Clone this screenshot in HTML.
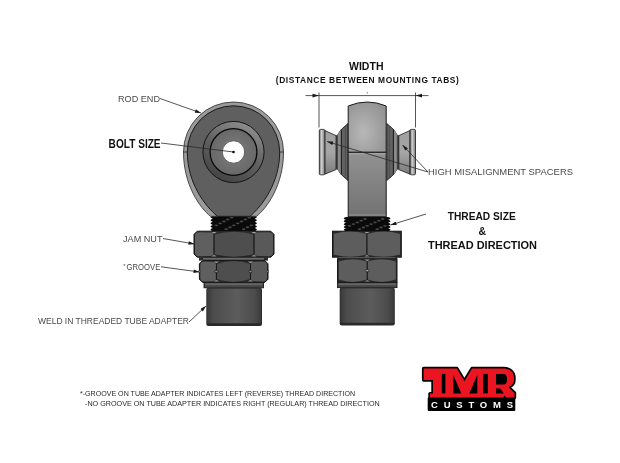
<!DOCTYPE html>
<html><head><meta charset="utf-8">
<style>
html,body{margin:0;padding:0;background:#fff;width:620px;height:463px;overflow:hidden}
svg{display:block;will-change:transform}
text{font-family:"Liberation Sans",sans-serif}
</style></head><body>
<svg width="620" height="463" viewBox="0 0 620 463">
<defs>
  <linearGradient id="tube" x1="0" x2="1" y1="0" y2="0">
    <stop offset="0" stop-color="#3a3a3a"/>
    <stop offset="0.12" stop-color="#4c4c4c"/>
    <stop offset="0.55" stop-color="#5c5c5c"/>
    <stop offset="0.88" stop-color="#4c4c4c"/>
    <stop offset="1" stop-color="#3a3a3a"/>
  </linearGradient>
  <radialGradient id="shankTop" cx="0.4" cy="0.6" r="0.7">
    <stop offset="0" stop-color="#b8b8b8"/>
    <stop offset="1" stop-color="#929292"/>
  </radialGradient>
  <linearGradient id="shankLow" x1="0" x2="0" y1="0" y2="1">
    <stop offset="0" stop-color="#929292"/>
    <stop offset="1" stop-color="#727272"/>
  </linearGradient>
  <linearGradient id="ring" x1="0.75" x2="0.25" y1="0" y2="1">
    <stop offset="0" stop-color="#909090"/>
    <stop offset="0.5" stop-color="#606060"/>
    <stop offset="1" stop-color="#424242"/>
  </linearGradient>
  <radialGradient id="inner" cx="0.5" cy="0.5" r="0.5">
    <stop offset="0.45" stop-color="#747474"/>
    <stop offset="1" stop-color="#686868"/>
  </radialGradient>
  <linearGradient id="cone" x1="0" x2="0" y1="0" y2="1">
    <stop offset="0" stop-color="#a0a0a0"/>
    <stop offset="0.5" stop-color="#a6a6a6"/>
    <stop offset="1" stop-color="#7c7c7c"/>
  </linearGradient>
  <linearGradient id="flange" x1="0" x2="1" y1="0" y2="0">
    <stop offset="0" stop-color="#6a6a6a"/>
    <stop offset="0.4" stop-color="#d0d0d0"/>
    <stop offset="1" stop-color="#7a7a7a"/>
  </linearGradient>
  <linearGradient id="flangeR" x1="1" x2="0" y1="0" y2="0">
    <stop offset="0" stop-color="#6a6a6a"/>
    <stop offset="0.4" stop-color="#d0d0d0"/>
    <stop offset="1" stop-color="#7a7a7a"/>
  </linearGradient>
  <marker id="arr" viewBox="0 0 10 6" refX="10" refY="3" markerWidth="7" markerHeight="3.6" orient="auto" markerUnits="userSpaceOnUse">
    <path d="M0,0 L10,3 L0,6 z" fill="#1a1a1a"/>
  </marker>
</defs>

<path d="M212.8,215.5 Q208.2,217.07 212.8,218.64 Q208.2,220.21 212.8,221.78 Q208.2,223.35 212.8,224.92 Q208.2,226.49 212.8,228.06 Q208.2,229.63 212.8,231.2 L254.6,231.2 Q259.2,229.63 254.6,228.06 Q259.2,226.49 254.6,224.92 Q259.2,223.35 254.6,221.78 Q259.2,220.21 254.6,218.64 Q259.2,217.07 254.6,215.5 Z" fill="#0a0a0a"/>
<ellipse cx="216.28" cy="225.3" rx="1.8" ry="0.9" fill="#484848"/>
<ellipse cx="220.12" cy="223.35" rx="1.8" ry="0.9" fill="#484848"/>
<ellipse cx="223.95" cy="221.4" rx="1.8" ry="0.9" fill="#484848"/>
<ellipse cx="227.78" cy="219.45" rx="1.8" ry="0.9" fill="#484848"/>
<ellipse cx="231.61" cy="217.5" rx="1.8" ry="0.9" fill="#484848"/>
<ellipse cx="226.18" cy="229.2" rx="1.8" ry="0.9" fill="#484848"/>
<ellipse cx="230.01" cy="227.25" rx="1.8" ry="0.9" fill="#484848"/>
<ellipse cx="233.84" cy="225.3" rx="1.8" ry="0.9" fill="#484848"/>
<ellipse cx="237.67" cy="223.35" rx="1.8" ry="0.9" fill="#484848"/>
<ellipse cx="241.5" cy="221.4" rx="1.8" ry="0.9" fill="#484848"/>
<ellipse cx="245.33" cy="219.45" rx="1.8" ry="0.9" fill="#484848"/>
<ellipse cx="249.17" cy="217.5" rx="1.8" ry="0.9" fill="#484848"/>
<ellipse cx="243.73" cy="229.2" rx="1.8" ry="0.9" fill="#484848"/>
<ellipse cx="247.56" cy="227.25" rx="1.8" ry="0.9" fill="#484848"/>
<ellipse cx="251.4" cy="225.3" rx="1.8" ry="0.9" fill="#484848"/>
<path d="M183.5,152 A50,50 0 0 1 283.5,152 C283.5,185 267,208 256.5,216.3 L210.5,216.3 C200,208 183.5,185 183.5,152 Z" fill="#9a9a9a" stroke="#3a3a3a" stroke-width="0.9"/>
<path d="M187.3,152 A46.2,46.2 0 0 1 279.7,152 C279.7,183 262,206 250,216.3 L217.5,216.3 C205,206 187.3,183 187.3,152 Z" fill="#5f5f5f" stroke="#1a1a1a" stroke-width="1"/>
<line x1="183.5" y1="152" x2="187.3" y2="152" stroke="#222" stroke-width="0.8"/>
<line x1="279.7" y1="152" x2="283.5" y2="152" stroke="#222" stroke-width="0.8"/>
<circle cx="233.5" cy="152" r="30.6" fill="url(#ring)" stroke="#151515" stroke-width="1"/>
<circle cx="233.5" cy="152" r="23.4" fill="url(#inner)" stroke="#0a0a0a" stroke-width="1.3"/>
<circle cx="233.5" cy="152" r="11.2" fill="#fff" stroke="#444" stroke-width="0.8"/>
<path d="M197.2,231.2 L270.8,231.2 L274,234.4 L274,254 L270.8,257.2 L197.2,257.2 L194,254 L194,234.4 Z" fill="#2c2c2c" stroke="#151515" stroke-width="1"/>
<path d="M214.4,234.5 Q234,228.9 253.6,234.5 L253.6,253.9 Q234,259.5 214.4,253.9 Z" fill="#4e4e4e"/>
<path d="M195,235.7 Q195,232.2 199.5,232.2 L210.5,232.4 Q213.6,232.8 213.6,234.5 L213.6,253.9 Q213.6,255.6 210.5,256 L199.5,256.2 Q195,256.2 195,252.7 Z" fill="#5f5f5f"/>
<path d="M273,235.7 Q273,232.2 268.5,232.2 L257.5,232.4 Q254.4,232.8 254.4,234.5 L254.4,253.9 Q254.4,255.6 257.5,256 L268.5,256.2 Q273,256.2 273,252.7 Z" fill="#595959"/>
<line x1="214" y1="232.2" x2="214" y2="256.2" stroke="#151515" stroke-width="0.9"/>
<line x1="254" y1="232.2" x2="254" y2="256.2" stroke="#151515" stroke-width="0.9"/>
<path d="M211.4,232 L216.6,232 L214,233.8 Z" fill="#9c9c9c"/>
<path d="M211.4,256.4 L216.6,256.4 L214,254.6 Z" fill="#8a8a8a"/>
<path d="M251.4,232 L256.6,232 L254,233.8 Z" fill="#9c9c9c"/>
<path d="M251.4,256.4 L256.6,256.4 L254,254.6 Z" fill="#8a8a8a"/>
<rect x="199" y="257.2" width="69" height="3.4" fill="#2a2a2a"/>
<line x1="203" y1="258.9" x2="264" y2="258.9" stroke="#a0a0a0" stroke-width="0.9"/>
<path d="M202.6,260.6 L264.8,260.6 L268,263.8 L268,279.2 L264.8,282.4 L202.6,282.4 L199.4,279.2 L199.4,263.8 Z" fill="#2c2c2c" stroke="#151515" stroke-width="1"/>
<path d="M216.8,263.9 Q233.45,258.3 250.1,263.9 L250.1,279.1 Q233.45,284.7 216.8,279.1 Z" fill="#4e4e4e"/>
<path d="M200.4,265.1 Q200.4,261.6 204.9,261.6 L212.9,261.8 Q216,262.2 216,263.9 L216,279.1 Q216,280.8 212.9,281.2 L204.9,281.4 Q200.4,281.4 200.4,277.9 Z" fill="#5f5f5f"/>
<path d="M267,265.1 Q267,261.6 262.5,261.6 L254,261.8 Q250.9,262.2 250.9,263.9 L250.9,279.1 Q250.9,280.8 254,281.2 L262.5,281.4 Q267,281.4 267,277.9 Z" fill="#595959"/>
<line x1="216.4" y1="261.6" x2="216.4" y2="281.4" stroke="#151515" stroke-width="0.9"/>
<line x1="250.5" y1="261.6" x2="250.5" y2="281.4" stroke="#151515" stroke-width="0.9"/>
<path d="M213.8,261.4 L219,261.4 L216.4,263.2 Z" fill="#9c9c9c"/>
<path d="M213.8,281.6 L219,281.6 L216.4,279.8 Z" fill="#8a8a8a"/>
<path d="M247.9,261.4 L253.1,261.4 L250.5,263.2 Z" fill="#9c9c9c"/>
<path d="M247.9,281.6 L253.1,281.6 L250.5,279.8 Z" fill="#8a8a8a"/>
<ellipse cx="216.4" cy="271.5" rx="1.7" ry="1.2" fill="#8a8a8a" stroke="#151515" stroke-width="0.7"/>
<ellipse cx="250.5" cy="271.5" rx="1.7" ry="1.2" fill="#8a8a8a" stroke="#151515" stroke-width="0.7"/>
<path d="M199,270.3 l1.6,1.2 l-1.6,1.2 z" fill="#fff" stroke="#151515" stroke-width="0.6"/>
<path d="M268.4,270.3 l-1.6,1.2 l1.6,1.2 z" fill="#fff" stroke="#151515" stroke-width="0.6"/>
<rect x="204" y="282.6" width="59.5" height="5.2" fill="#484848" stroke="#1a1a1a" stroke-width="0.9"/><line x1="205" y1="284.1" x2="262.5" y2="284.1" stroke="#8a8a8a" stroke-width="0.8"/>
<rect x="206.3" y="287.8" width="55.7" height="38.2" rx="2" fill="#2a2a2a"/>
<rect x="207.1" y="288.6" width="54.1" height="34.6" fill="url(#tube)"/>
<path d="M346,217 Q341.4,218.42 346,219.84 Q341.4,221.26 346,222.68 Q341.4,224.1 346,225.52 Q341.4,226.94 346,228.36 Q341.4,229.78 346,231.2 L388.2,231.2 Q392.8,229.78 388.2,228.36 Q392.8,226.94 388.2,225.52 Q392.8,224.1 388.2,222.68 Q392.8,221.26 388.2,219.84 Q392.8,218.42 388.2,217 Z" fill="#0a0a0a"/>
<ellipse cx="349.52" cy="225.8" rx="1.8" ry="0.9" fill="#484848"/>
<ellipse cx="353.38" cy="224.1" rx="1.8" ry="0.9" fill="#484848"/>
<ellipse cx="357.25" cy="222.4" rx="1.8" ry="0.9" fill="#484848"/>
<ellipse cx="361.12" cy="220.7" rx="1.8" ry="0.9" fill="#484848"/>
<ellipse cx="364.99" cy="219" rx="1.8" ry="0.9" fill="#484848"/>
<ellipse cx="359.5" cy="229.2" rx="1.8" ry="0.9" fill="#484848"/>
<ellipse cx="363.37" cy="227.5" rx="1.8" ry="0.9" fill="#484848"/>
<ellipse cx="367.24" cy="225.8" rx="1.8" ry="0.9" fill="#484848"/>
<ellipse cx="371.11" cy="224.1" rx="1.8" ry="0.9" fill="#484848"/>
<ellipse cx="374.98" cy="222.4" rx="1.8" ry="0.9" fill="#484848"/>
<ellipse cx="378.85" cy="220.7" rx="1.8" ry="0.9" fill="#484848"/>
<ellipse cx="382.71" cy="219" rx="1.8" ry="0.9" fill="#484848"/>
<ellipse cx="377.23" cy="229.2" rx="1.8" ry="0.9" fill="#484848"/>
<ellipse cx="381.1" cy="227.5" rx="1.8" ry="0.9" fill="#484848"/>
<ellipse cx="384.96" cy="225.8" rx="1.8" ry="0.9" fill="#484848"/>
<path d="M336.2,137.28 A34.5,34.5 0 0 1 348,123.47 L348,180.53 A34.5,34.5 0 0 1 336.2,166.72 Z" fill="#626262" stroke="#1a1a1a" stroke-width="0.8"/>
<path d="M336.4,136.86 A34.5,34.5 0 0 1 341.6,129.1 L341.6,174.9 A34.5,34.5 0 0 1 336.4,167.14 Z" fill="#8a8a8a"/>
<line x1="341.4" y1="129.32" x2="341.4" y2="174.68" stroke="#1e1e1e" stroke-width="1.1"/>
<line x1="345.4" y1="126.42" x2="345.4" y2="177.58" stroke="#4a4a4a" stroke-width="0.8"/>
<rect x="335.7" y="135.2" width="2.2" height="34.3" fill="#454545"/>
<path d="M398.6,137.28 A34.5,34.5 0 0 0 386.8,123.47 L386.8,180.53 A34.5,34.5 0 0 0 398.6,166.72 Z" fill="#626262" stroke="#1a1a1a" stroke-width="0.8"/>
<path d="M398.4,136.86 A34.5,34.5 0 0 0 393.2,129.1 L393.2,174.9 A34.5,34.5 0 0 0 398.4,167.14 Z" fill="#8a8a8a"/>
<line x1="393.4" y1="129.32" x2="393.4" y2="174.68" stroke="#1e1e1e" stroke-width="1.1"/>
<line x1="389.4" y1="126.42" x2="389.4" y2="177.58" stroke="#4a4a4a" stroke-width="0.8"/>
<rect x="396.9" y="135.2" width="2.2" height="34.3" fill="#454545"/>
<path d="M324.8,130.5 L336,135.6 L336,169.6 L324.8,174.2 Z" fill="url(#cone)" stroke="#1a1a1a" stroke-width="0.8"/>
<rect x="319.3" y="129.4" width="5.5" height="45.4" rx="1.2" fill="url(#flange)" stroke="#1a1a1a" stroke-width="0.8"/>
<path d="M410,130.5 L398.8,135.6 L398.8,169.6 L410,174.2 Z" fill="url(#cone)" stroke="#1a1a1a" stroke-width="0.8"/>
<rect x="410" y="129.4" width="5.5" height="45.4" rx="1.2" fill="url(#flange)" stroke="#1a1a1a" stroke-width="0.8"/>
<path d="M348.2,106 Q367.2,98 386.2,106 L386.2,152.3 L348.2,152.3 Z" fill="url(#shankTop)" stroke="#1a1a1a" stroke-width="1"/>
<rect x="348.2" y="152.3" width="38" height="64.4" fill="url(#shankLow)" stroke="#1a1a1a" stroke-width="1"/>
<line x1="348.7" y1="153.8" x2="385.7" y2="153.8" stroke="#b0b0b0" stroke-width="0.8"/>
<line x1="348.8" y1="215" x2="385.6" y2="215" stroke="#a8a8a8" stroke-width="0.7"/>
<rect x="332.5" y="231.2" width="68.8" height="26" fill="#2c2c2c" stroke="#151515" stroke-width="1"/>
<path d="M333.8,234 Q350.15,229.2 366.5,234 L366.5,254.4 Q350.15,259.2 333.8,254.4 Z" fill="#5d5d5d"/>
<path d="M367.3,234 Q383.65,229.2 400,234 L400,254.4 Q383.65,259.2 367.3,254.4 Z" fill="#5d5d5d"/>
<line x1="366.9" y1="232.2" x2="366.9" y2="256.2" stroke="#151515" stroke-width="0.9"/>
<path d="M364.3,232 L369.5,232 L366.9,233.6 Z" fill="#9c9c9c"/>
<path d="M364.3,256.4 L369.5,256.4 L366.9,254.8 Z" fill="#8a8a8a"/>
<rect x="337.5" y="257.2" width="59.5" height="1.6" fill="#2a2a2a"/>
<line x1="339" y1="258" x2="395.5" y2="258" stroke="#9a9a9a" stroke-width="0.7"/>
<rect x="337.5" y="258.8" width="59.5" height="23.6" fill="#2c2c2c" stroke="#151515" stroke-width="1"/>
<path d="M338.8,261.6 Q352.83,256.8 366.85,261.6 L366.85,279.6 Q352.83,284.4 338.8,279.6 Z" fill="#5d5d5d"/>
<path d="M367.65,261.6 Q381.67,256.8 395.7,261.6 L395.7,279.6 Q381.67,284.4 367.65,279.6 Z" fill="#5d5d5d"/>
<line x1="367.25" y1="259.8" x2="367.25" y2="281.4" stroke="#151515" stroke-width="0.9"/>
<path d="M364.65,259.6 L369.85,259.6 L367.25,261.2 Z" fill="#9c9c9c"/>
<path d="M364.65,281.6 L369.85,281.6 L367.25,280 Z" fill="#8a8a8a"/>
<ellipse cx="367.25" cy="270.6" rx="1.9" ry="1.3" fill="#9a9a9a" stroke="#151515" stroke-width="0.7"/>
<rect x="337.5" y="282.6" width="59.5" height="5" fill="#484848" stroke="#1a1a1a" stroke-width="0.9"/><line x1="338.5" y1="284.1" x2="396" y2="284.1" stroke="#8a8a8a" stroke-width="0.8"/>
<rect x="339.7" y="287.6" width="55.1" height="38" rx="2" fill="#2a2a2a"/>
<rect x="340.5" y="288.4" width="53.5" height="34.4" fill="url(#tube)"/>
<g stroke="#2a2a2a" stroke-width="0.8" fill="none"><line x1="305.5" y1="95.6" x2="428.5" y2="95.6"/><line x1="319" y1="92.5" x2="319" y2="127.5"/><line x1="415.5" y1="92.5" x2="415.5" y2="127.5"/></g>
<path d="M319,95.6 l-6.5,-1.8 l0,3.6 z M415.5,95.6 l6.5,-1.8 l0,3.6 z" fill="#1a1a1a"/>
<circle cx="367.3" cy="92.8" r="0.6" fill="#444"/>
<g stroke="#2a2a2a" stroke-width="0.8" fill="none" marker-end="url(#arr)"><line x1="160" y1="98.5" x2="201" y2="113"/><line x1="163" y1="238.5" x2="194.5" y2="244"/><line x1="161" y1="266.8" x2="199.6" y2="272"/><line x1="189" y1="322" x2="206" y2="306"/><line x1="428" y1="172" x2="327" y2="141.5"/><line x1="428" y1="172" x2="402.5" y2="145"/><line x1="426" y1="214" x2="390.5" y2="225"/></g>
<line x1="161" y1="143" x2="233.5" y2="152" stroke="#2a2a2a" stroke-width="0.8"/>
<circle cx="233.5" cy="152" r="1.3" fill="#111"/>
<g fill="#4a4a4a"><text x="118" y="101.6" font-size="9" textLength="42" lengthAdjust="spacingAndGlyphs">ROD END</text><text x="123" y="242.4" font-size="9" textLength="39.5" lengthAdjust="spacingAndGlyphs">JAM NUT</text><text x="126.6" y="270.2" font-size="9" textLength="33.7" lengthAdjust="spacingAndGlyphs">GROOVE</text><text x="123.2" y="267.5" font-size="6">*</text><text x="38" y="324.3" font-size="9" textLength="151" lengthAdjust="spacingAndGlyphs">WELD IN THREADED TUBE ADAPTER</text><text x="428" y="175.2" font-size="9.6" textLength="145" lengthAdjust="spacingAndGlyphs">HIGH MISALIGNMENT SPACERS</text></g>
<g fill="#111" font-weight="bold"><text x="108.6" y="148.2" font-size="12" textLength="52" lengthAdjust="spacingAndGlyphs">BOLT SIZE</text><text x="349" y="69.6" font-size="11" textLength="34.5" lengthAdjust="spacingAndGlyphs">WIDTH</text><text x="275.8" y="82.6" font-size="8.4" textLength="183" lengthAdjust="spacing">(DISTANCE BETWEEN MOUNTING TABS)</text><text x="447.7" y="220.3" font-size="11.5" textLength="68" lengthAdjust="spacingAndGlyphs">THREAD SIZE</text><text x="478.4" y="235.2" font-size="10.5" textLength="7.6" lengthAdjust="spacingAndGlyphs">&amp;</text><text x="428" y="248.5" font-size="11.5" textLength="109" lengthAdjust="spacingAndGlyphs">THREAD DIRECTION</text></g>
<g fill="#2a2a2a"><text x="80" y="396" font-size="8" textLength="275" lengthAdjust="spacingAndGlyphs">*-GROOVE ON TUBE ADAPTER INDICATES LEFT (REVERSE) THREAD DIRECTION</text><text x="85" y="405.8" font-size="8" textLength="294.7" lengthAdjust="spacingAndGlyphs">-NO GROOVE ON TUBE ADAPTER INDICATES RIGHT (REGULAR) THREAD DIRECTION</text></g>
<rect x="427.7" y="397.2" width="87.6" height="13.8" rx="1.2" fill="#000"/>
<path d="M423.6,368.5 L456.9,368.5 L464.4,381.2 L472,368.5 L503,368.5 C510.5,368.5 514,372.5 514,378 L514,380 C514,383.5 511.5,386 508.5,387.2 L514.5,393 L514.5,397.6 L506,397.6 L504.6,395.4 L503.2,397.6 L430,397.6 L430,393.6 L433,393.6 L433,380 L423.6,380 Z" fill="#ea1520" stroke="#000" stroke-width="3.4" stroke-linejoin="round" paint-order="stroke"/>
<g fill="#000"><rect x="441.8" y="373.9" width="3.6" height="19.5"/><path d="M453.3,375 L453.3,393.4 L461.3,393.4 Z"/><path d="M477.3,375 L477.3,393.4 L469.3,393.4 Z"/><rect x="483" y="373.9" width="4.8" height="19.5"/><path d="M496,373.9 L503.5,373.9 Q507,374 507,379.2 Q507,384.5 503.5,384.5 L496,384.5 Z"/><path d="M496,388.4 L500.2,388.4 L503.8,393.4 L496,393.4 Z"/></g>
<text x="431" y="408.4" font-weight="bold" font-size="9.5" fill="#fff" textLength="82" lengthAdjust="spacing">CUSTOMS</text>
</svg>
</body></html>
